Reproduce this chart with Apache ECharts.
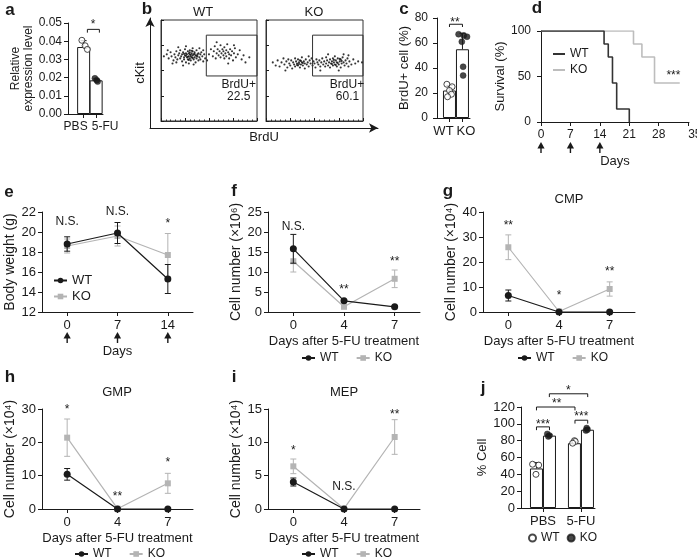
<!DOCTYPE html>
<html><head><meta charset="utf-8">
<script src="https://cdn.jsdelivr.net/npm/echarts@6/dist/echarts.min.js"></script>
<style>html,body{margin:0;padding:0;background:#fff}#c{width:697px;height:557px}</style>
</head><body><div id="c"></div>
<script>
const FONT = '"Liberation Sans", Arial, Helvetica, sans-serif';
const INK = '#1a1a1a';
const KOC = '#b4b4b4';

// ---------------- data ----------------
// a
const aCats = ['PBS', '5-FU'];
const aMeans = [0.0368, 0.0185];
const aErr = [0.0035, 0.0008];
const aPoints = [[0.0405, 0.0375, 0.0355], [0.0196, 0.0186, 0.0178]];
// b (flow cytometry events, 0-100 display units)
const bWT = [[3,64],[6,66],[8,62],[10,68],[11,64],[13,60],[14,66],[15,63],[16,69],[17,61],[18,65],[19,67],[20,62],[20,70],[21,64],[22,59],[22,66],[23,68],[24,63],[24,61],[25,65],[25,71],[26,67],[26,58],[27,63],[27,66],[28,69],[28,61],[29,64],[29,67],[30,62],[30,66],[30,70],[31,60],[31,64],[32,67],[32,63],[33,65],[33,69],[34,61],[34,66],[35,63],[35,68],[36,58],[36,65],[37,62],[37,70],[38,66],[38,64],[39,60],[39,67],[40,63],[41,66],[41,61],[42,68],[43,64],[44,59],[45,66],[46,62],[12,57],[18,73],[26,74],[34,56],[40,72],[7,70],[23,55],[29,57],[33,72],[44,70],[16,58],
  [31,65.5],[28,63.5],[33,62.5],[26,64.5],[35,66.5],[30,68],[24,66.5],[37,64.5],[29,60.5],[32,69.5],
  [50,66],[52,71],[54,64],[55,69],[56,74],[57,62],[58,67],[59,71],[60,65],[61,69],[62,63],[62,75],[63,67],[64,71],[65,65],[65,69],[66,62],[66,73],[67,67],[68,70],[68,64],[69,76],[70,68],[71,62],[71,66],[72,71],[73,65],[74,69],[75,60],[76,67],[77,72],[78,63],[80,66],[82,70],[84,61],[86,65],[88,58],[58,78],[70,57],[76,75],[92,63],[48,60]];
const bKO = [[7,58],[10,55],[12,60],[14,54],[16,58],[18,62],[19,56],[21,59],[22,53],[23,61],[24,57],[25,55],[26,60],[27,52],[28,58],[29,56],[30,62],[30,54],[31,59],[32,57],[33,55],[33,61],[34,58],[35,53],[35,60],[36,56],[37,58],[37,63],[38,55],[39,59],[40,57],[40,52],[41,61],[42,56],[43,58],[44,54],[45,60],[46,57],[47,62],
  [48,55],[49,59],[50,57],[51,53],[52,61],[53,58],[54,56],[55,60],[56,54],[57,58],[58,62],[59,56],[60,59],[61,54],[62,57],[62,63],[63,60],[64,55],[65,58],[66,61],[66,53],[67,57],[68,59],[69,62],[69,55],[70,58],[71,56],[71,64],[72,60],[73,54],[73,58],[74,62],[75,56],[76,59],[77,53],[77,61],[78,57],[79,63],[80,58],[81,55],[82,60],[83,57],[84,62],[85,54],[86,59],[88,56],[90,61],[92,57],[95,59],[99,58],[64,66],[80,66],[44,64],[56,50],[75,50],[20,50],[85,65],
  [34,56.5],[36,59.5],[32,55.5],[38,57.5],[70,60.5],[74,57.5],[72,55.5],[76,61.5],[68,56.5],[78,59.5]];
const bGateLabel = 'BrdU+';
const bPct = ['22.5', '60.1'];
// c
const cCats = ['WT', 'KO'];
const cMeans = [22, 55];
const cErr = [4, 12.8];
const cPoints = [[27, 25, 22, 19, 17], [67, 66, 65, 61, 41, 34]];
// d
const dWT = [[0,100],[15,85.7],[16,71.4],[17,42.9],[18,14.3],[21,0]];
const dKO = [[0,100],[22,85.7],[24,71.4],[27,42.9],[33,42.9]];
const dTicks = [0, 7, 14, 21, 28, 35];
const dTreat = [0, 7, 14];
// e
const eDays = ['0', '7', '14'];
const eWT = [18.8, 19.9, 15.3], eWTerr = [0.72, 1.05, 1.45];
const eKO = [18.6, 19.6, 17.7], eKOerr = [0.7, 1.0, 2.15];
const eSig = ['N.S.', 'N.S.', '*'], eSigY = [21.0, 22.0, 21.1];
// f
const fDays = ['0', '4', '7'];
const fWT = [15.8, 2.8, 1.3], fWTerr = [3.6, 0.3, 0.2];
const fKO = [12.7, 1.3, 8.3], fKOerr = [2.7, 0.4, 2.2];
const fSig = ['N.S.', '**', '**'], fSigY = [21.25, 6.25, 13.25];
// g CMP
const gWT = [6.6, 0, 0], gWTerr = [2.2, 0, 0];
const gKO = [25.9, 0.2, 9.2], gKOerr = [4.95, 0.1, 2.85];
const gSig = ['**', '*', '**'], gSigY = [35.8, 7.9, 17.2];
// h GMP
const hWT = [10.4, 0, 0], hWTerr = [1.75, 0, 0];
const hKO = [21.4, 0.1, 7.7], hKOerr = [5.6, 0.1, 3.0];
const hSig = ['*', '**', '*'], hSigY = [30.7, 4.7, 14.7];
// i MEP
const iWT = [4.05, 0, 0], iWTerr = [0.6, 0, 0];
const iKO = [6.4, 0.05, 10.8], iKOerr = [1.1, 0.05, 2.6];
const iSig = ['*', 'N.S.', '**'], iSigY = [9.15, 3.4, 14.65];
// j
const jCats = ['PBS', '5-FU'];
const jWTmeans = [47, 77], jWTerr = [7, 1.5];
const jKOmeans = [86, 93], jKOerr = [1.5, 2];
const jWTpts = [[52, 51, 40], [80, 79, 77]];
const jKOpts = [[88, 86, 85], [95, 93, 92]];

// ---------------- helpers ----------------
function merge(a, b) {
  const o = Object.assign({}, a);
  for (const k in b) {
    const bv = b[k], av = a ? a[k] : undefined;
    if (bv && typeof bv === 'object' && !Array.isArray(bv) && av && typeof av === 'object' && !Array.isArray(av)) o[k] = merge(av, bv);
    else o[k] = bv;
  }
  return o;
}
const AX = {
  nameLocation: 'middle',
  axisLine: { show: true, onZero: false, lineStyle: { color: INK, width: 1 } },
  axisTick: { show: true, length: 4, lineStyle: { color: INK, width: 1 } },
  axisLabel: { color: INK, fontSize: 12, fontFamily: FONT, margin: 6 },
  splitLine: { show: false },
  nameTextStyle: { color: INK, fontSize: 13, fontFamily: FONT }
};
const ax = (g, o) => merge(merge(AX, { gridIndex: g }), o || {});
const txt = (t, x, y, size, bold, extra) => Object.assign({
  type: 'text', x, y, silent: true,
  style: { text: t, fill: INK, fontSize: size, fontFamily: FONT, fontWeight: bold ? 'bold' : 'normal', align: 'center', verticalAlign: 'middle' }
}, extra || {});

function errSeries(g, data, color, upOnly, capW, z) {
  return {
    type: 'custom', xAxisIndex: g, yAxisIndex: g, silent: true, z, data,
    renderItem(params, api) {
      const x = api.value(0), y = api.value(1), e = api.value(2);
      if (!(e > 0)) return null;
      const t = api.coord([x, y + e]), b = api.coord([x, upOnly ? y : y - e]);
      const hw = capW / 2, st = { stroke: color, lineWidth: 1 };
      const ch = [
        { type: 'line', shape: { x1: t[0], y1: b[1], x2: t[0], y2: t[1] }, style: st },
        { type: 'line', shape: { x1: t[0] - hw, y1: t[1], x2: t[0] + hw, y2: t[1] }, style: st }
      ];
      if (!upOnly) ch.push({ type: 'line', shape: { x1: t[0] - hw, y1: b[1], x2: t[0] + hw, y2: b[1] }, style: st });
      return { type: 'group', children: ch };
    }
  };
}
function textSeries(g, pts, texts, size) {
  return {
    type: 'custom', xAxisIndex: g, yAxisIndex: g, silent: true, z: 10, clip: false, data: pts,
    renderItem(params, api) {
      const p = api.coord([api.value(0), api.value(1)]);
      const t = texts[params.dataIndex];
      const star = /^\*+$/.test(t);
      return { type: 'text', x: p[0], y: p[1] + (star ? 3 : 0),
        style: { text: t, fill: INK, fontSize: size || 12, fontFamily: FONT, align: 'center', verticalAlign: 'middle' } };
    }
  };
}
function bracketSeries(g, data) {
  return {
    type: 'custom', xAxisIndex: g, yAxisIndex: g, silent: true, z: 9, clip: false, data,
    renderItem(params, api) {
      const a = api.coord([api.value(0), api.value(2)]), b = api.coord([api.value(1), api.value(2)]);
      const l = api.coord([api.value(0), api.value(3)]);
      return { type: 'polyline', shape: { points: [[a[0], l[1]], a, b, [b[0], l[1]]] }, style: { stroke: INK, lineWidth: 1, fill: null } };
    }
  };
}
function arrowSeries(g, data) {
  return {
    type: 'custom', xAxisIndex: g, yAxisIndex: g, silent: true, clip: false, data,
    renderItem(params, api) {
      const cs = params.coordSys;
      const x = api.coord([api.value(0), api.value(1)])[0];
      const b = cs.y + cs.height;
      return { type: 'group', children: [
        { type: 'polygon', shape: { points: [[x, b + 20], [x - 3.6, b + 26.5], [x + 3.6, b + 26.5]] }, style: { fill: INK } },
        { type: 'line', shape: { x1: x, y1: b + 25, x2: x, y2: b + 31 }, style: { stroke: INK, lineWidth: 1.4 } }
      ] };
    }
  };
}
function dotSeries(g, name, pts, jit, xpos, open, size) {
  const data = [];
  pts.forEach((arr, i) => arr.forEach((v, k) => data.push([xpos[i] + jit[i][k], v])));
  return {
    type: 'scatter', name, xAxisIndex: g, yAxisIndex: g, silent: true, z: 6, clip: false,
    symbol: 'circle', symbolSize: size || 6, data,
    itemStyle: open ? { color: '#fff', borderColor: INK, borderWidth: 1 } : { color: INK, borderColor: INK, borderWidth: 0.5 }
  };
}
function linePanel(g, key, wt, wtE, ko, koE, sigY, sig) {
  return [
    errSeries(g, ko.map((v, i) => [i, v, koE[i]]), KOC, false, 6, 2),
    { type: 'line', name: key + ':KO', xAxisIndex: g, yAxisIndex: g, data: ko, symbol: 'rect', symbolSize: 6,
      itemStyle: { color: KOC }, lineStyle: { color: KOC, width: 1.2 }, z: 3, silent: true },
    errSeries(g, wt.map((v, i) => [i, v, wtE[i]]), INK, false, 6, 4),
    { type: 'line', name: key + ':WT', xAxisIndex: g, yAxisIndex: g, data: wt, symbol: 'circle', symbolSize: 7,
      itemStyle: { color: INK }, lineStyle: { color: INK, width: 1.2 }, z: 5, silent: true },
    textSeries(g, sigY.map((v, i) => [i, v]), sig, 12)
  ];
}
const catX = (g, cats, extra) => ax(g, merge({ type: 'category', data: cats, boundaryGap: true,
  axisTick: { alignWithLabel: true }, axisLabel: { margin: 7, fontSize: 13 } }, extra || {}));
const GX = (o) => Object.assign({ outerBoundsMode: 'none', containLabel: false }, o);

// ---------------- layout ----------------
const grids = [
  GX({ left: 68, top: 23, width: 35, height: 91 }),                 // 0 a
  GX({ left: 150, top: 18, width: 228, height: 110 }),              // 1 b arrows
  GX({ left: 161, top: 20, width: 96, height: 101, show: true, borderColor: '#333', borderWidth: 1 }), // 2 b WT
  GX({ left: 266, top: 20, width: 97, height: 101, show: true, borderColor: '#333', borderWidth: 1 }), // 3 b KO
  GX({ left: 437, top: 18, width: 33, height: 100 }),               // 4 c
  GX({ left: 541, top: 31, width: 148, height: 91 }),               // 5 d
  GX({ left: 42, top: 212, width: 151, height: 100 }),              // 6 e
  GX({ left: 268, top: 212, width: 152, height: 100 }),             // 7 f
  GX({ left: 483, top: 212, width: 152, height: 100 }),             // 8 g
  GX({ left: 42, top: 409, width: 151, height: 100 }),              // 9 h
  GX({ left: 268, top: 409, width: 152, height: 100 }),             // 10 i
  GX({ left: 521, top: 407, width: 74, height: 101 })               // 11 j
];

const aX = [0, 1];
const cX = [0, 1];
const jGroup = 2.92;
const jWTx = [0, jGroup], jKOx = [1, 1 + jGroup], jLab = [0.5, 0.5 + jGroup];

const flowX = (g) => ax(g, { type: 'value', min: 0, max: 100, interval: 25,
  axisLine: { lineStyle: { color: '#333' } }, axisTick: { inside: true, length: 3 },
  minorTick: { show: true, splitNumber: 5, length: 1.5, lineStyle: { color: '#333' } }, axisLabel: { show: false } });

const xAxes = [
  ax(0, { type: 'value', min: -1.25, max: 1.55,
    axisTick: { customValues: aX }, axisLabel: { customValues: aX, margin: 7,
      formatter: (v) => (Math.round(v) === 0 ? '{l|' : '{r|') + aCats[Math.round(v)] + '}',
      rich: { l: { fontSize: 12, fontFamily: FONT, color: INK, padding: [0, 16, 0, 0] }, r: { fontSize: 12, fontFamily: FONT, color: INK, padding: [0, 0, 0, 18] } } } }),
  ax(1, { type: 'value', min: 0, max: 1, axisLine: { symbol: ['none', 'arrow'], symbolSize: [7, 9] },
    axisTick: { show: false }, axisLabel: { show: false }, name: 'BrdU', nameGap: 3 }),
  flowX(2), flowX(3),
  ax(4, { type: 'value', min: -0.96, max: 1.58,
    axisTick: { customValues: cX }, axisLabel: { customValues: cX, margin: 7,
      formatter: (v) => (Math.round(v) === 0 ? '{l|' : '{r|') + cCats[Math.round(v)] + '}',
      rich: { l: { fontSize: 13, fontFamily: FONT, color: INK, padding: [0, 12, 0, 0] }, r: { fontSize: 13, fontFamily: FONT, color: INK, padding: [0, 0, 0, 7] } } } }),
  ax(5, { type: 'value', min: 0, max: 35.2, name: 'Days', nameGap: 33,
    axisTick: { customValues: dTicks }, axisLabel: { margin: 7, customValues: dTicks, showMaxLabel: true, hideOverlap: false, alignMaxLabel: 'left' } }),
  catX(6, eDays, { name: 'Days', nameGap: 33 }),
  catX(7, fDays, { name: 'Days after 5-FU treatment', nameGap: 23 }),
  catX(8, fDays, { name: 'Days after 5-FU treatment', nameGap: 23 }),
  catX(9, fDays, { name: 'Days after 5-FU treatment', nameGap: 23 }),
  catX(10, fDays, { name: 'Days after 5-FU treatment', nameGap: 23 }),
  ax(11, { type: 'value', min: -1.19, max: 4.5,
    axisTick: { customValues: jLab }, axisLabel: { customValues: jLab, margin: 7, fontSize: 13,
      formatter: (v) => jCats[Math.abs(v - jLab[0]) < 0.5 ? 0 : 1] } })
];
const yName = (t, gap, size) => ({ name: t, nameGap: gap, nameTextStyle: { fontSize: size || 14 } });
const flowY = (g) => ax(g, { type: 'value', min: 0, max: 100, interval: 25,
  axisLine: { lineStyle: { color: '#333' } }, axisTick: { inside: true, length: 3 }, axisLabel: { show: false } });
const yAxes = [
  ax(0, merge({ type: 'value', min: 0, max: 0.05, interval: 0.01, axisLabel: { formatter: (v) => v.toFixed(2) } },
    { name: 'Relative\nexpression level', nameGap: 33, nameTextStyle: { fontSize: 12, lineHeight: 13 } })),
  ax(1, { type: 'value', min: 0, max: 1, axisLine: { symbol: ['none', 'arrow'], symbolSize: [7, 9] },
    axisTick: { show: false }, axisLabel: { show: false }, name: 'cKit', nameGap: 3 }),
  flowY(2), flowY(3),
  ax(4, merge({ type: 'value', min: 0, max: 80, interval: 20, axisLabel: { margin: 9 } }, yName('BrdU+ cell (%)', 26, 13))),
  ax(5, merge({ type: 'value', min: 0, max: 100, interval: 50, axisLabel: { margin: 10 } }, yName('Survival (%)', 32, 13))),
  ax(6, merge({ type: 'value', min: 12, max: 22, interval: 2, axisLabel: { fontSize: 13 } }, yName('Body weight (g)', 24))),
  ax(7, merge({ type: 'value', min: 0, max: 25, interval: 5, axisLabel: { fontSize: 13 } }, yName('Cell number (×10⁶)', 24))),
  ax(8, merge({ type: 'value', min: 0, max: 40, interval: 10, axisLabel: { fontSize: 13 } }, yName('Cell number (×10⁴)', 24))),
  ax(9, merge({ type: 'value', min: 0, max: 30, interval: 10, axisLabel: { fontSize: 13 } }, yName('Cell number (×10⁴)', 24))),
  ax(10, merge({ type: 'value', min: 0, max: 15, interval: 5, axisLabel: { fontSize: 13 } }, yName('Cell number (×10⁴)', 24))),
  ax(11, merge({ type: 'value', min: 0, max: 120, interval: 20, axisLabel: { fontSize: 13 } }, yName('% Cell', 30, 13)))
];

// ---------------- series ----------------
const series = [];
// a
series.push({ type: 'bar', xAxisIndex: 0, yAxisIndex: 0, barWidth: 13, silent: true, z: 2,
  data: aMeans.map((v, i) => [aX[i], v]), itemStyle: { color: '#fff', borderColor: INK, borderWidth: 1 } });
series.push(errSeries(0, aMeans.map((v, i) => [aX[i], v, aErr[i]]), INK, true, 6, 3));
series.push(dotSeries(0, 'a:PBS', [aPoints[0]], [[-0.14, 0.12, 0.3]], [aX[0]], true, 6));
series.push(dotSeries(0, 'a:5FU', [aPoints[1]], [[-0.1, 0.05, 0.12]], [aX[1]], false, 6));
series.push(bracketSeries(0, [[0.3, 1.26, 0.0465, 0.0447]]));
series.push(textSeries(0, [[0.76, 0.0505]], ['*'], 12));
// b
series.push({ type: 'scatter', xAxisIndex: 2, yAxisIndex: 2, silent: true, symbolSize: 2.1, data: bWT, itemStyle: { color: '#111', opacity: 0.85 } });
series.push({ type: 'scatter', xAxisIndex: 3, yAxisIndex: 3, silent: true, symbolSize: 2.1, data: bKO, itemStyle: { color: '#111', opacity: 0.85 } });
[2, 3].forEach((g, k) => {
  series.push({ type: 'custom', xAxisIndex: g, yAxisIndex: g, silent: true, z: 5,
    data: [[k === 0 ? 47.2 : 48, 44.6, 100, 85]],
    renderItem(params, api) {
      const p1 = api.coord([api.value(0), api.value(3)]), p2 = api.coord([api.value(2), api.value(1)]);
      return { type: 'rect', shape: { x: p1[0], y: p1[1], width: p2[0] - p1[0], height: p2[1] - p1[1] }, style: { stroke: '#333', fill: null, lineWidth: 1 } };
    } });
  series.push(textSeries(g, [[k === 0 ? 81 : 83.5, 35.6], [k === 0 ? 81 : 84, 24.5]], [bGateLabel, bPct[k]], 12));
});
// c
series.push({ type: 'bar', xAxisIndex: 4, yAxisIndex: 4, barWidth: 13, silent: true, z: 2,
  data: cMeans.map((v, i) => [cX[i], v]), itemStyle: { color: '#fff', borderColor: INK, borderWidth: 1 } });
series.push(errSeries(4, cMeans.map((v, i) => [cX[i], v, cErr[i]]), INK, true, 6, 3));
series.push(dotSeries(4, 'c:WT', [cPoints[0]], [[-0.2, 0.2, 0, 0.15, -0.15]], [cX[0]], true, 6));
series.push(dotSeries(4, 'c:KO', [cPoints[1]], [[-0.3, 0.1, 0.35, -0.05, 0.05, 0.05]], [cX[1]], false, 6));
series.push(bracketSeries(4, [[0, 1, 75, 72.8]]));
series.push(textSeries(4, [[0.42, 78.4]], ['**'], 12));
// d
series.push({ type: 'line', name: 'd:KO', xAxisIndex: 5, yAxisIndex: 5, step: 'end', symbol: 'none', data: dKO, silent: true,
  itemStyle: { color: '#bdbdbd' }, lineStyle: { color: '#bdbdbd', width: 1.6 }, z: 3 });
series.push({ type: 'line', name: 'd:WT', xAxisIndex: 5, yAxisIndex: 5, step: 'end', symbol: 'none', data: dWT, silent: true,
  itemStyle: { color: '#333' }, lineStyle: { color: '#333', width: 1.6 }, z: 4 });
series.push(textSeries(5, [[31.5, 54]], ['***'], 12));
series.push(arrowSeries(5, dTreat.map(d => [d, 0])));
// e..i
series.push(...linePanel(6, 'e', eWT, eWTerr, eKO, eKOerr, eSigY, eSig));
series.push(arrowSeries(6, eDays.map((d, i) => [i, 12])));
series.push(...linePanel(7, 'f', fWT, fWTerr, fKO, fKOerr, fSigY, fSig));
series.push(...linePanel(8, 'g', gWT, gWTerr, gKO, gKOerr, gSigY, gSig));
series.push(...linePanel(9, 'h', hWT, hWTerr, hKO, hKOerr, hSigY, hSig));
series.push(...linePanel(10, 'i', iWT, iWTerr, iKO, iKOerr, iSigY, iSig));
// j
series.push({ type: 'bar', xAxisIndex: 11, yAxisIndex: 11, barWidth: 13, silent: true, z: 2,
  data: jWTmeans.map((v, i) => [jWTx[i], v]).concat(jKOmeans.map((v, i) => [jKOx[i], v])),
  itemStyle: { color: '#fff', borderColor: INK, borderWidth: 1 } });
series.push(errSeries(11, jWTmeans.map((v, i) => [jWTx[i], v, jWTerr[i]]).concat(jKOmeans.map((v, i) => [jKOx[i], v, jKOerr[i]])), INK, true, 6, 3));
series.push(dotSeries(11, 'j:WT', jWTpts, [[-0.3, 0.17, -0.04], [0, 0.06, -0.14]], jWTx, true, 6));
series.push(dotSeries(11, 'j:KO', jKOpts, [[-0.17, 0, -0.09], [-0.06, 0, -0.12]], jKOx, false, 6));
series.push(bracketSeries(11, [[0, 1, 96.4, 92.5], [2.96, 3.94, 104.3, 100.3], [0, 2.96, 120, 116], [0.99, 3.94, 135.7, 131.8]]));
series.push(textSeries(11, [[0.5, 103], [3.45, 112], [1.55, 127], [2.45, 142.8]], ['***', '***', '**', '*'], 12));

// ---------------- legends ----------------
const LG = (o) => Object.assign({ selectedMode: false, padding: 0, itemWidth: 13, itemHeight: 7, itemGap: 17,
  formatter: (n) => n.split(':')[1], textStyle: { color: INK, fontSize: 12, fontFamily: FONT } }, o);
const legends = [
  LG({ left: 553, top: 48, orient: 'vertical', icon: 'rect', itemWidth: 12, itemHeight: 2, itemGap: 4, data: ['d:WT', 'd:KO'] }),
  LG({ left: 53, top: 274, orient: 'vertical', itemGap: 3, data: ['e:WT', 'e:KO'], textStyle: { color: INK, fontSize: 13, fontFamily: FONT } }),
  LG({ left: 301, top: 352, data: ['f:WT', 'f:KO'] }),
  LG({ left: 517, top: 352, data: ['g:WT', 'g:KO'] }),
  LG({ left: 74, top: 548, data: ['h:WT', 'h:KO'] }),
  LG({ left: 301, top: 548, data: ['i:WT', 'i:KO'] }),
  LG({ left: 528, top: 532, itemWidth: 7, itemHeight: 7, itemGap: 7, data: ['j:WT', 'j:KO'] })
];

// ---------------- static text ----------------
const graphic = [
  txt('a', 10, 10, 17, true), txt('b', 147, 9, 17, true), txt('c', 404, 9, 17, true), txt('d', 537, 8, 17, true),
  txt('e', 9, 192, 17, true), txt('f', 234, 191, 17, true), txt('g', 448, 191, 17, true),
  txt('h', 10, 377, 17, true), txt('i', 234, 377, 17, true), txt('j', 483, 388, 17, true),
  txt('WT', 203, 12, 13), txt('KO', 314, 12, 13),
  txt('CMP', 569, 199, 13), txt('GMP', 117, 392, 13), txt('MEP', 344, 392, 13)
];

const chart = echarts.init(document.getElementById('c'), null, { renderer: 'canvas' });
chart.setOption({
  animation: false, backgroundColor: '#fff',
  textStyle: { fontFamily: FONT },
  grid: grids, xAxis: xAxes, yAxis: yAxes, series, legend: legends, graphic
});
</script></body></html>
